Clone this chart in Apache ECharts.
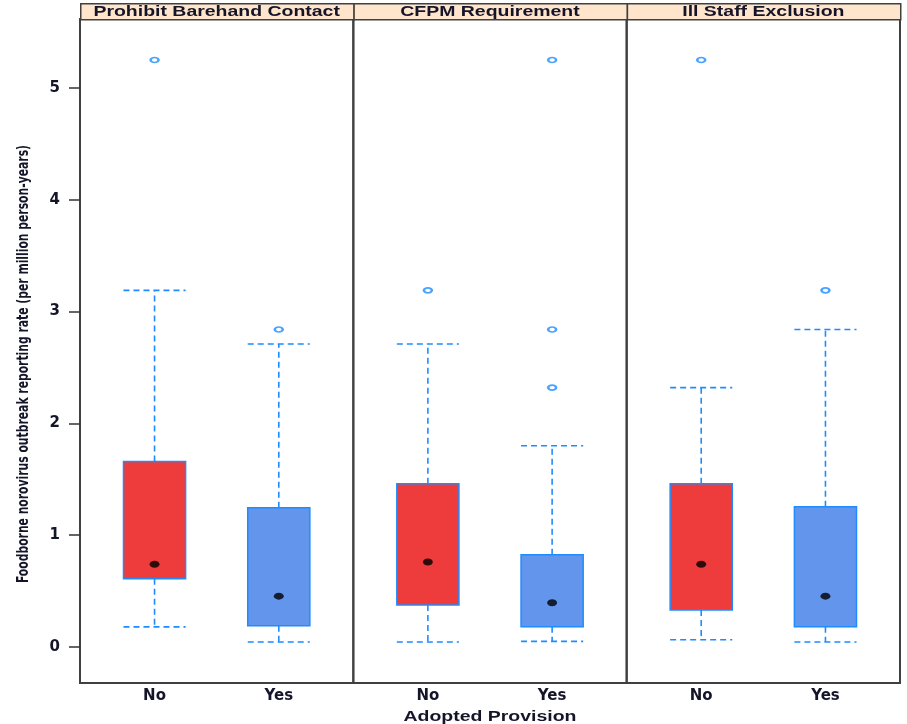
<!DOCTYPE html>
<html>
<head>
<meta charset="utf-8">
<script src="https://cdn.jsdelivr.net/npm/echarts@6/dist/echarts.min.js"></script>
<style>
html,body{margin:0;padding:0;background:#fff;}
#chart{width:907px;height:724px;}
</style>
</head>
<body>
<div id="chart"></div>
<script>
// ---- data ----
const panels = ['Prohibit Barehand Contact', 'CFPM Requirement', 'Ill Staff Exclusion'];
const categories = ['No', 'Yes'];
const yTicks = [0, 1, 2, 3, 4, 5];
// [lower whisker, Q1, median, Q3, upper whisker] per panel, per category
const statsBarehand = [[0.18, 0.61, 0.74, 1.66, 3.19], [0.045, 0.19, 0.455, 1.245, 2.71]];
const statsCFPM     = [[0.045, 0.375, 0.76, 1.46, 2.71], [0.05, 0.18, 0.395, 0.825, 1.80]];
const statsIllStaff = [[0.065, 0.33, 0.74, 1.46, 2.32], [0.045, 0.18, 0.455, 1.255, 2.84]];
const outliersBarehand = [[5.25], [2.84]];
const outliersCFPM     = [[3.19], [2.32, 2.84, 5.25]];
const outliersIllStaff = [[5.25], [3.19]];
const yMin = -0.322, yMax = 5.617;

const allStats = [statsBarehand, statsCFPM, statsIllStaff];
const allOutliers = [outliersBarehand, outliersCFPM, outliersIllStaff];

// ---- layout / style ----
const L = 80, R = 900, T = 19, B = 683, ST = 3;
const PW = (R - L) / 3;
const SX = 1.39; // horizontal stretch of the original text
const fills = ['#ee3b3b', '#6495ed'];
const blue = '#1e8cff';
const frame = '#404040';
const textCol = '#15152a';
const BOX_W = 0.5;

function renderBox(params, api) {
  const x = api.value(0);
  const lo = api.value(1), q1 = api.value(2), q3 = api.value(4), hi = api.value(5);
  const half = api.size([BOX_W, 0])[0] / 2;
  const pLo = api.coord([x, lo]), pQ1 = api.coord([x, q1]), pQ3 = api.coord([x, q3]), pHi = api.coord([x, hi]);
  const cx = pLo[0];
  const dash = { stroke: blue, lineWidth: 1.6, lineDash: [6, 4], fill: null };
  return {
    type: 'group',
    children: [
      { type: 'line', shape: { x1: cx, y1: pQ1[1], x2: cx, y2: pLo[1] }, style: dash },
      { type: 'line', shape: { x1: cx, y1: pQ3[1], x2: cx, y2: pHi[1] }, style: dash },
      { type: 'line', shape: { x1: cx - half, y1: pLo[1], x2: cx + half, y2: pLo[1] }, style: dash },
      { type: 'line', shape: { x1: cx - half, y1: pHi[1], x2: cx + half, y2: pHi[1] }, style: dash },
      { type: 'rect', shape: { x: cx - half, y: pQ3[1], width: 2 * half, height: pQ1[1] - pQ3[1] },
        style: { fill: fills[params.dataIndex], stroke: blue, lineWidth: 1.5 } }
    ]
  };
}

const grids = [], xAxes = [], yAxes = [], series = [], graphics = [];
for (let i = 0; i < 3; i++) {
  grids.push({ left: L + i * PW, width: PW, top: T, height: B - T, show: true,
    borderColor: frame, borderWidth: 2, backgroundColor: 'transparent' });
  xAxes.push({ type: 'value', gridIndex: i, min: 0.4, max: 2.6,
    axisLine: { show: false }, axisTick: { show: false }, splitLine: { show: false },
    axisLabel: { customValues: [1, 2], formatter: v => categories[Math.round(v) - 1],
      margin: 6, fontFamily: 'DejaVu Sans', fontWeight: 'bold', fontSize: 15, color: textCol } });
  yAxes.push({ type: 'value', gridIndex: i, min: yMin, max: yMax,
    axisLine: { show: false }, splitLine: { show: false },
    axisTick: { show: i === 0, customValues: yTicks, length: 11, lineStyle: { color: '#333', width: 1.5 } },
    axisLabel: { show: i === 0, customValues: yTicks, margin: 20,
      fontFamily: 'DejaVu Sans', fontWeight: 'bold', fontSize: 15, color: textCol } });
  const st = allStats[i];
  series.push({ type: 'custom', xAxisIndex: i, yAxisIndex: i, renderItem: renderBox,
    encode: { x: 0, y: [1, 2, 3, 4, 5] },
    data: st.map((s, k) => [k + 1].concat(s)), z: 2 });
  series.push({ type: 'scatter', xAxisIndex: i, yAxisIndex: i, symbol: 'circle', symbolSize: [10, 7],
    itemStyle: { color: '#000' }, z: 5,
    data: st.map((s, k) => [k + 1, s[2]]) });
  const outs = [];
  allOutliers[i].forEach((arr, k) => arr.forEach(v => outs.push([k + 1, v])));
  series.push({ type: 'scatter', xAxisIndex: i, yAxisIndex: i, symbol: 'emptyCircle', symbolSize: [8, 5],
    itemStyle: { color: blue, borderWidth: 1.5 }, z: 5, data: outs });
  // strip
  graphics.push({ type: 'rect', left: L + i * PW, top: ST,
    shape: { width: PW, height: T - ST },
    style: { fill: '#ffe5cc', stroke: frame, lineWidth: 1.5 }, z: 10 });
  graphics.push({ type: 'text', x: L + i * PW + PW / 2, y: (ST + T) / 2 + 1, scaleX: SX, z: 11,
    style: { text: panels[i], align: 'center', verticalAlign: 'middle',
      font: 'bold 14px "Liberation Sans", Arial, sans-serif', fill: textCol } });
}
graphics.push({ type: 'text', x: (L + R) / 2, y: 717, scaleX: SX,
  style: { text: 'Adopted Provision', align: 'center', verticalAlign: 'middle',
    font: 'bold 14px "Liberation Sans", Arial, sans-serif', fill: textCol } });
graphics.push({ type: 'text', x: 24, y: 364, rotation: Math.PI / 2, scaleY: SX,
  style: { text: 'Foodborne norovirus outbreak reporting rate (per million person-years)',
    align: 'center', verticalAlign: 'middle',
    font: 'bold 12px "Liberation Sans Narrow", "DejaVu Sans Condensed", sans-serif', fill: textCol } });

const chart = echarts.init(document.getElementById('chart'), null, { renderer: 'canvas' });
chart.setOption({
  animation: false,
  backgroundColor: '#fff',
  grid: grids, xAxis: xAxes, yAxis: yAxes, series: series, graphic: graphics
});
</script>
</body>
</html>
